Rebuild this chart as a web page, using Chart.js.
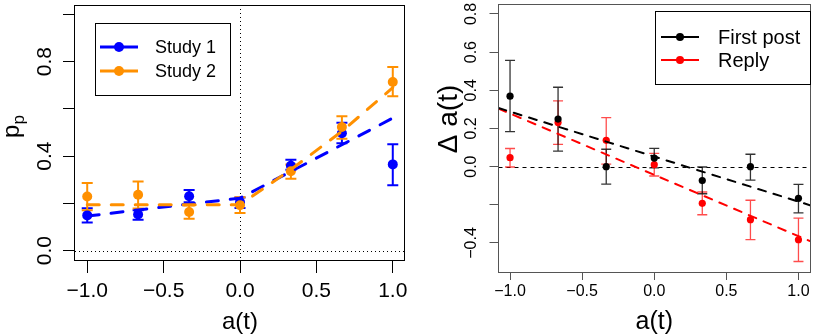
<!DOCTYPE html>
<html>
<head>
<meta charset="utf-8">
<script src="https://cdn.jsdelivr.net/npm/chart.js@4.4.1/dist/chart.umd.min.js"></script>
<style>
  html, body { margin: 0; padding: 0; background: #fff; overflow: hidden; }
  #wrap { position: relative; width: 814px; height: 335px; }
  #leftChart { position: absolute; left: 0; top: 0; }
  #rightChart { position: absolute; left: 410px; top: 0; }
</style>
</head>
<body>
<div id="wrap">
  <canvas id="leftChart" width="410" height="335"></canvas>
  <canvas id="rightChart" width="404" height="335"></canvas>
</div>
<script>
// shared x levels of a(t)
const levels = [-1, -0.667, -0.333, 0, 0.333, 0.667, 1];

// left panel: p_p by study
const leftNames = ['Study 1', 'Study 2'];
const study1 = [0.149, 0.153, 0.230, 0.205, 0.359, 0.497, 0.365];
const study1Lo = [0.119, 0.130, 0.205, 0.180, 0.342, 0.455, 0.277];
const study1Hi = [0.179, 0.171, 0.256, 0.225, 0.385, 0.541, 0.450];
const study2 = [0.229, 0.236, 0.163, 0.192, 0.336, 0.523, 0.714];
const study2Lo = [0.171, 0.178, 0.135, 0.159, 0.304, 0.474, 0.654];
const study2Hi = [0.286, 0.293, 0.191, 0.226, 0.365, 0.569, 0.777];
const study1Fit = [0.146, 0.172, 0.197, 0.222, 0.335, 0.448, 0.561];
const study2Fit = [0.194, 0.194, 0.194, 0.194, 0.343, 0.505, 0.690];

const leftXTicks = [-1, -0.5, 0, 0.5, 1];
const leftXLabels = ['\u22121.0', '\u22120.5', '0.0', '0.5', '1.0'];
const leftYTicks = [0, 0.2, 0.4, 0.6, 0.8, 1.0];
const leftYLabels = ['0.0', '', '0.4', '', '0.8', ''];

// right panel: change of a(t)
const rightNames = ['First post', 'Reply'];
const firstPost = [0.369, 0.249, 0.000, 0.045, -0.073, 0.000, -0.166];
const firstPostLo = [0.183, 0.081, -0.092, -0.007, -0.142, -0.071, -0.242];
const firstPostHi = [0.557, 0.416, 0.091, 0.096, -0.002, 0.065, -0.093];
const reply = [0.047, 0.231, 0.138, 0.010, -0.192, -0.278, -0.383];
const replyLo = [-0.002, 0.117, 0.013, -0.049, -0.252, -0.382, -0.497];
const replyHi = [0.095, 0.345, 0.257, 0.069, -0.133, -0.176, -0.270];
const fitX = [-1.08, 1.08];
const firstPostFit = [0.307, -0.202];
const replyFit = [0.304, -0.390];

const rightXTicks = [-1, -0.5, 0, 0.5, 1];
const rightXLabels = ['\u22121.0', '\u22120.5', '0.0', '0.5', '1.0'];
const rightYTicks = [-0.4, -0.2, 0, 0.2, 0.4, 0.6, 0.8];
const rightYLabels = ['\u22120.4', '', '0.0', '0.2', '0.4', '0.6', '0.8'];

const FONT = '"Liberation Sans", Arial, Helvetica, sans-serif';
const COLORS = {
  blue: '#0000ff',
  orange: '#ff9000',
  black: '#000000',
  red: '#ff0000'
};

function pts(xs, ys) {
  return xs.map((x, i) => ({ x, y: ys[i] }));
}

// draws the R-like frame: box, labels, titles, error bars, legend
const rStyle = {
  id: 'rStyle',
  beforeDatasetsDraw(chart, args, o) {
    const { ctx, chartArea: a } = chart;
    const xs = chart.scales.x;
    const ys = chart.scales.y;
    ctx.save();
    ctx.beginPath();
    ctx.rect(a.left, a.top, a.right - a.left, a.bottom - a.top);
    ctx.clip();
    ctx.strokeStyle = '#000';
    ctx.lineWidth = 1;
    o.refLines.forEach(r => {
      ctx.setLineDash(r.dash);
      ctx.beginPath();
      if (r.axis === 'x') {
        const px = Math.round(xs.getPixelForValue(r.value)) + 0.5;
        ctx.moveTo(px, a.top);
        ctx.lineTo(px, a.bottom);
      } else {
        const py = Math.round(ys.getPixelForValue(r.value)) + 0.5;
        ctx.moveTo(a.left, py);
        ctx.lineTo(a.right, py);
      }
      ctx.stroke();
    });
    ctx.setLineDash([]);
    o.errorBars.forEach(e => {
      ctx.strokeStyle = e.color;
      ctx.lineWidth = e.width;
      e.lo.forEach((lo, i) => {
        const px = xs.getPixelForValue(levels[i]);
        const pl = ys.getPixelForValue(lo);
        const ph = ys.getPixelForValue(e.hi[i]);
        ctx.beginPath();
        ctx.moveTo(px, pl); ctx.lineTo(px, ph);
        ctx.moveTo(px - e.cap, pl); ctx.lineTo(px + e.cap, pl);
        ctx.moveTo(px - e.cap, ph); ctx.lineTo(px + e.cap, ph);
        ctx.stroke();
      });
    });
    ctx.restore();
  },
  afterDraw(chart, args, o) {
    const { ctx, chartArea: a } = chart;
    const xs = chart.scales.x;
    const ys = chart.scales.y;
    ctx.save();
    // box
    ctx.strokeStyle = o.frameColor;
    ctx.lineWidth = 1;
    ctx.strokeRect(Math.round(a.left) - 0.5, Math.round(a.top) + 0.5,
      Math.round(a.right - a.left), Math.round(a.bottom - a.top));

    ctx.fillStyle = '#000';
    ctx.textAlign = 'center';
    ctx.textBaseline = 'middle';
    ctx.font = o.tickFont + 'px ' + FONT;
    o.xTicks.forEach((v, i) => {
      ctx.fillText(o.xLabels[i], xs.getPixelForValue(v), o.xLabelY);
    });
    o.yTicks.forEach((v, i) => {
      if (!o.yLabels[i]) return;
      ctx.save();
      ctx.translate(o.yLabelX, ys.getPixelForValue(v));
      ctx.rotate(-Math.PI / 2);
      ctx.fillText(o.yLabels[i], 0, 0);
      ctx.restore();
    });

    // axis titles
    ctx.font = o.titleFont + 'px ' + FONT;
    ctx.fillText(o.xTitle, (a.left + a.right) / 2, o.xTitleY);
    ctx.save();
    ctx.translate(o.yTitleX, (a.top + a.bottom) / 2 + o.yTitleShift);
    ctx.rotate(-Math.PI / 2);
    ctx.font = o.yTitleFont + 'px ' + FONT;
    if (o.yTitleSub) {
      const mainW = ctx.measureText(o.yTitle).width;
      ctx.font = Math.round(o.yTitleFont * 0.7) + 'px ' + FONT;
      const subW = ctx.measureText(o.yTitleSub).width;
      const start = -(mainW + subW) / 2;
      ctx.textAlign = 'left';
      ctx.font = o.yTitleFont + 'px ' + FONT;
      ctx.fillText(o.yTitle, start, 0);
      ctx.font = Math.round(o.yTitleFont * 0.7) + 'px ' + FONT;
      ctx.fillText(o.yTitleSub, start + mainW, o.yTitleFont * 0.3);
    } else {
      ctx.fillText(o.yTitle, 0, 0);
    }
    ctx.restore();

    // legend
    const lg = o.legend;
    ctx.strokeStyle = '#000';
    ctx.lineWidth = 1;
    ctx.strokeRect(lg.box[0], lg.box[1], lg.box[2], lg.box[3]);
    ctx.font = lg.font + 'px ' + FONT;
    ctx.textAlign = 'left';
    lg.names.forEach((name, i) => {
      const y = lg.rowY[i];
      ctx.strokeStyle = lg.colors[i];
      ctx.lineWidth = lg.lineWidth;
      ctx.beginPath();
      ctx.moveTo(lg.lineX[0], y);
      ctx.lineTo(lg.lineX[1], y);
      ctx.stroke();
      ctx.fillStyle = lg.colors[i];
      ctx.beginPath();
      ctx.arc((lg.lineX[0] + lg.lineX[1]) / 2, y, lg.radius, 0, Math.PI * 2);
      ctx.fill();
      ctx.fillStyle = '#000';
      ctx.fillText(name, lg.textX, y + 1);
    });
    ctx.restore();
  }
};

function scaleX(range, ticks, tickLen, color, height) {
  return {
    type: 'linear',
    min: range[0],
    max: range[1],
    afterBuildTicks: (s) => { s.ticks = ticks.map(v => ({ value: v })); },
    afterFit: (s) => { s.height = height; },
    ticks: { display: false },
    border: { display: false },
    grid: { drawOnChartArea: false, drawTicks: true, tickLength: tickLen, color, lineWidth: 1 }
  };
}

function scaleY(range, ticks, tickLen, color, width) {
  return {
    type: 'linear',
    min: range[0],
    max: range[1],
    afterBuildTicks: (s) => { s.ticks = ticks.map(v => ({ value: v })); },
    afterFit: (s) => { s.width = width; },
    ticks: { display: false },
    border: { display: false },
    grid: { drawOnChartArea: false, drawTicks: true, tickLength: tickLen, color, lineWidth: 1 }
  };
}

function pointSet(label, data, color, radius, order) {
  return {
    label, data, order,
    showLine: false,
    pointRadius: radius,
    pointBackgroundColor: color,
    pointBorderWidth: 0,
    borderColor: color
  };
}

function fitSet(label, data, color, width, dash, order) {
  return {
    label, data, order,
    showLine: true,
    pointRadius: 0,
    borderColor: color,
    borderWidth: width,
    borderDash: dash,
    borderCapStyle: 'round',
    tension: 0,
    fill: false
  };
}

new Chart(document.getElementById('leftChart'), {
  type: 'scatter',
  data: {
    datasets: [
      pointSet('Study 1', pts(levels, study1), COLORS.blue, 5, 4),
      pointSet('Study 2', pts(levels, study2), COLORS.orange, 5, 3),
      fitSet('Study 1 fit', pts(levels, study1Fit), COLORS.blue, 3, [12, 12], 2),
      fitSet('Study 2 fit', pts(levels, study2Fit), COLORS.orange, 3, [12, 12], 1)
    ]
  },
  options: {
    responsive: false,
    animation: false,
    events: [],
    layout: { padding: { left: 0, top: 3, right: 5, bottom: 0 } },
    plugins: {
      legend: { display: false },
      tooltip: { enabled: false },
      rStyle: {
        frameColor: '#000',
        refLines: [{ axis: 'x', value: 0, dash: [1, 3] }, { axis: 'y', value: 0, dash: [1, 3] }],
        errorBars: [
          { lo: study1Lo, hi: study1Hi, color: COLORS.blue, width: 2, cap: 5.5 },
          { lo: study2Lo, hi: study2Hi, color: COLORS.orange, width: 2, cap: 5.5 }
        ],
        tickFont: 21,
        xTicks: leftXTicks, xLabels: leftXLabels, xLabelY: 291,
        yTicks: leftYTicks, yLabels: leftYLabels, yLabelX: 45,
        titleFont: 24, xTitle: 'a(t)', xTitleY: 322,
        yTitle: 'p', yTitleSub: 'p', yTitleFont: 24, yTitleX: 12, yTitleShift: -6,
        legend: {
          box: [95.5, 23.5, 135, 72], names: leftNames, colors: [COLORS.blue, COLORS.orange],
          rowY: [47, 71], lineX: [100, 138], textX: 155, font: 18, lineWidth: 3, radius: 5
        }
      }
    },
    scales: {
      x: scaleX([-1.08, 1.08], leftXTicks, 13, '#000', 75),
      y: scaleY([-0.04, 1.04], leftYTicks, 12, '#000', 75)
    }
  },
  plugins: [rStyle]
});

new Chart(document.getElementById('rightChart'), {
  type: 'scatter',
  data: {
    datasets: [
      pointSet('Reply', pts(levels, reply), COLORS.red, 3.6, 4),
      pointSet('First post', pts(levels, firstPost), COLORS.black, 3.6, 3),
      fitSet('Reply fit', pts(fitX, replyFit), COLORS.red, 2, [8, 8], 2),
      fitSet('First post fit', pts(fitX, firstPostFit), COLORS.black, 2, [8, 8], 1)
    ]
  },
  options: {
    responsive: false,
    animation: false,
    events: [],
    layout: { padding: { left: 0, top: 2, right: 1, bottom: 0 } },
    plugins: {
      legend: { display: false },
      tooltip: { enabled: false },
      rStyle: {
        frameColor: '#555',
        refLines: [{ axis: 'y', value: 0, dash: [4, 4] }],
        errorBars: [
          { lo: replyLo, hi: replyHi, color: 'rgba(255,0,0,0.7)', width: 1.3, cap: 5 },
          { lo: firstPostLo, hi: firstPostHi, color: 'rgba(0,0,0,0.8)', width: 1.3, cap: 5 }
        ],
        tickFont: 16,
        xTicks: rightXTicks, xLabels: rightXLabels, xLabelY: 292,
        yTicks: rightYTicks, yLabels: rightYLabels, yLabelX: 62,
        titleFont: 25, xTitle: 'a(t)', xTitleY: 322,
        yTitle: '\u0394 a(t)', yTitleFont: 28, yTitleX: 39, yTitleShift: -19,
        legend: {
          box: [245.5, 11.5, 155, 73], names: rightNames, colors: [COLORS.black, COLORS.red],
          rowY: [37, 60], lineX: [251, 289], textX: 308, font: 20, lineWidth: 2, radius: 4
        }
      }
    },
    scales: {
      x: scaleX([-1.08, 1.08], rightXTicks, 8, '#555', 63),
      y: scaleY([-0.552, 0.852], rightYTicks, 9, '#555', 88.5)
    }
  },
  plugins: [rStyle]
});
</script>
</body>
</html>
